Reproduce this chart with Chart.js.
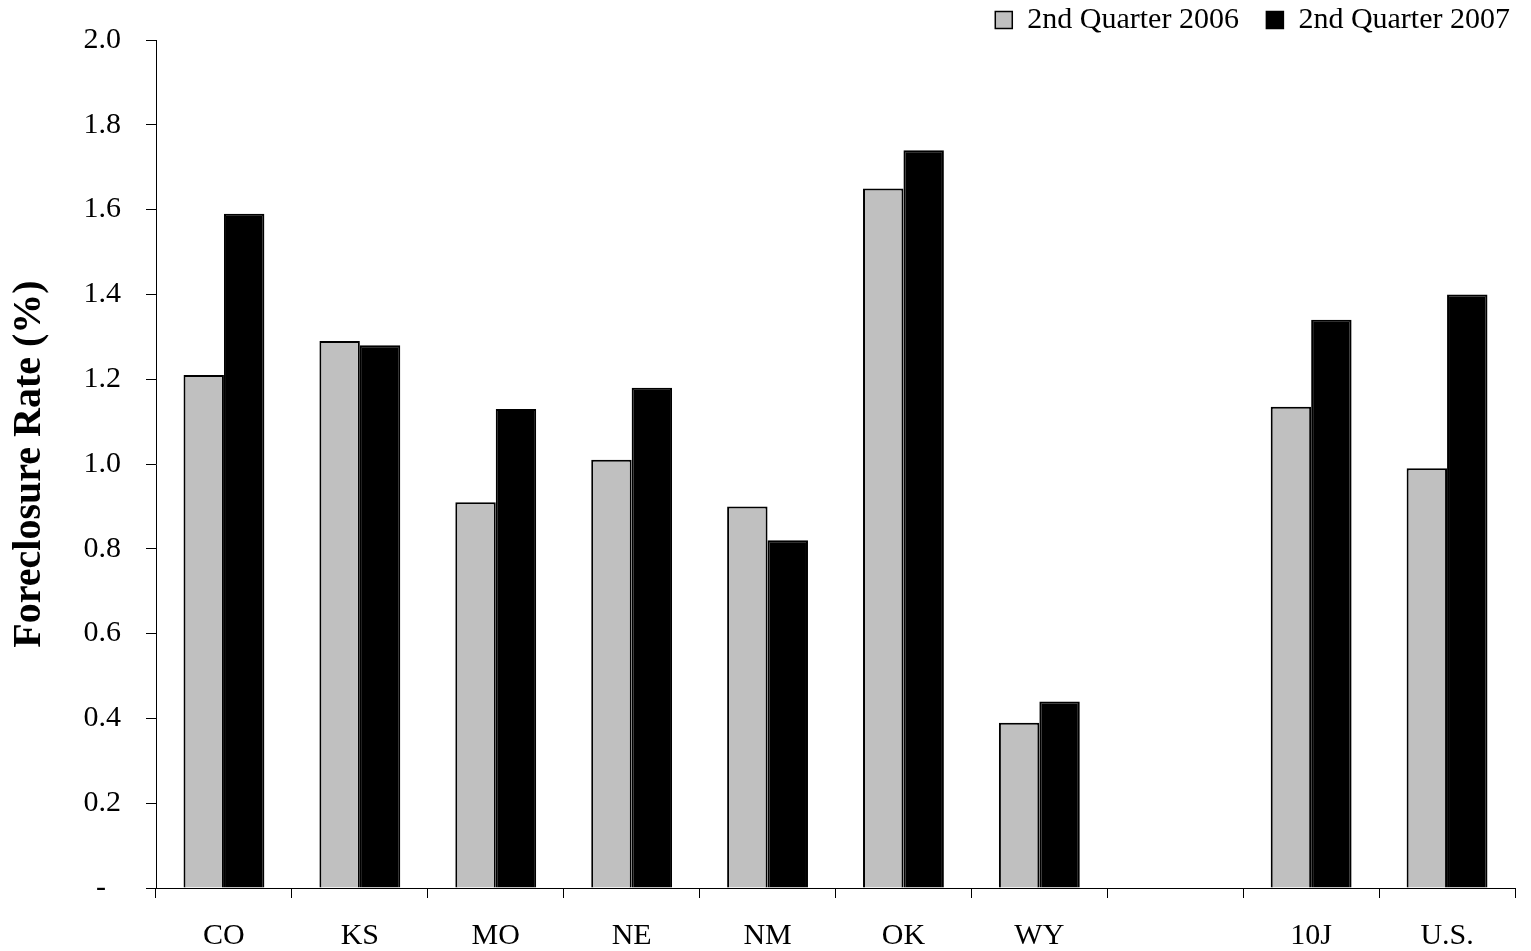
<!DOCTYPE html>
<html>
<head>
<meta charset="utf-8">
<script src="https://cdn.jsdelivr.net/npm/chart.js@4.4.1/dist/chart.umd.min.js"></script>
<style>
  html, body { margin: 0; padding: 0; background: #fff; }
  #wrap { width: 1531px; height: 951px; }
</style>
</head>
<body>
<div id="wrap"><canvas id="c" width="1531" height="951"></canvas></div>
<script>
// Foreclosure rates by state, 2nd quarter 2006 vs 2007
const categories = ['CO', 'KS', 'MO', 'NE', 'NM', 'OK', 'WY', '', '10J', 'U.S.'];
const q2_2006 = [1.21, 1.29, 0.91, 1.01, 0.90, 1.65, 0.39, null, 1.135, 0.99];
const q2_2007 = [1.59, 1.28, 1.13, 1.18, 0.82, 1.74, 0.44, null, 1.34, 1.40];
const yTicks = { min: 0, max: 2.0, step: 0.2 };

const serif = '"Liberation Serif", "Times New Roman", serif';

new Chart(document.getElementById('c'), {
  type: 'bar',
  data: {
    labels: categories,
    datasets: [
      {
        label: '2nd Quarter 2006',
        data: q2_2006,
        backgroundColor: '#c0c0c0',
        borderColor: '#000',
        borderWidth: 2,
        categoryPercentage: 0.595,
        barPercentage: 1.0
      },
      {
        label: '2nd Quarter 2007',
        data: q2_2007,
        backgroundColor: '#000',
        borderColor: '#000',
        borderWidth: 2,
        categoryPercentage: 0.595,
        barPercentage: 1.0
      }
    ]
  },
  options: {
    responsive: false,
    animation: false,
    layout: { padding: { top: 0, right: 16, bottom: 0, left: 0 } },
    plugins: {
      tooltip: { enabled: false },
      legend: {
        position: 'top',
        align: 'end',
        maxHeight: 40,
        labels: {
          color: '#000',
          font: { family: serif, size: 30 },
          boxWidth: 17,
          boxHeight: 17,
          padding: 5,
          generateLabels(chart) {
            const items = Chart.defaults.plugins.legend.labels.generateLabels(chart);
            items.forEach((it, i) => {
              it.lineWidth = 1.5;
              // extra room between the two legend entries
              if (i < items.length - 1) it.text = it.text + '   ';
            });
            return items;
          }
        }
      }
    },
    scales: {
      x: {
        grid: { drawOnChartArea: false, drawTicks: true, tickLength: 10, color: '#000', lineWidth: 1 },
        border: { display: true, color: '#000', width: 1 },
        ticks: { color: '#000', font: { family: serif, size: 30 }, padding: 20, maxRotation: 0, autoSkip: false },
        afterFit(scale) { scale.height = 63; }
      },
      y: {
        min: yTicks.min,
        max: yTicks.max,
        grid: { drawOnChartArea: false, drawTicks: true, tickLength: 10, color: '#000', lineWidth: 1 },
        border: { display: true, color: '#000', width: 1 },
        ticks: {
          stepSize: yTicks.step,
          color: '#000',
          font: { family: serif, size: 30, lineHeight: 1.0 },
          padding: 25,
          callback(v) { return Math.abs(v) < 1e-9 ? '-  ' : Number(v).toFixed(1); }
        },
        title: {
          display: true,
          text: 'Foreclosure Rate (%)',
          color: '#000',
          font: { family: serif, size: 40, weight: 'bold' },
          padding: { top: 6, bottom: 0 }
        },
        afterFit(scale) { scale.width = 156; }
      }
    }
  }
});
</script>
</body>
</html>
